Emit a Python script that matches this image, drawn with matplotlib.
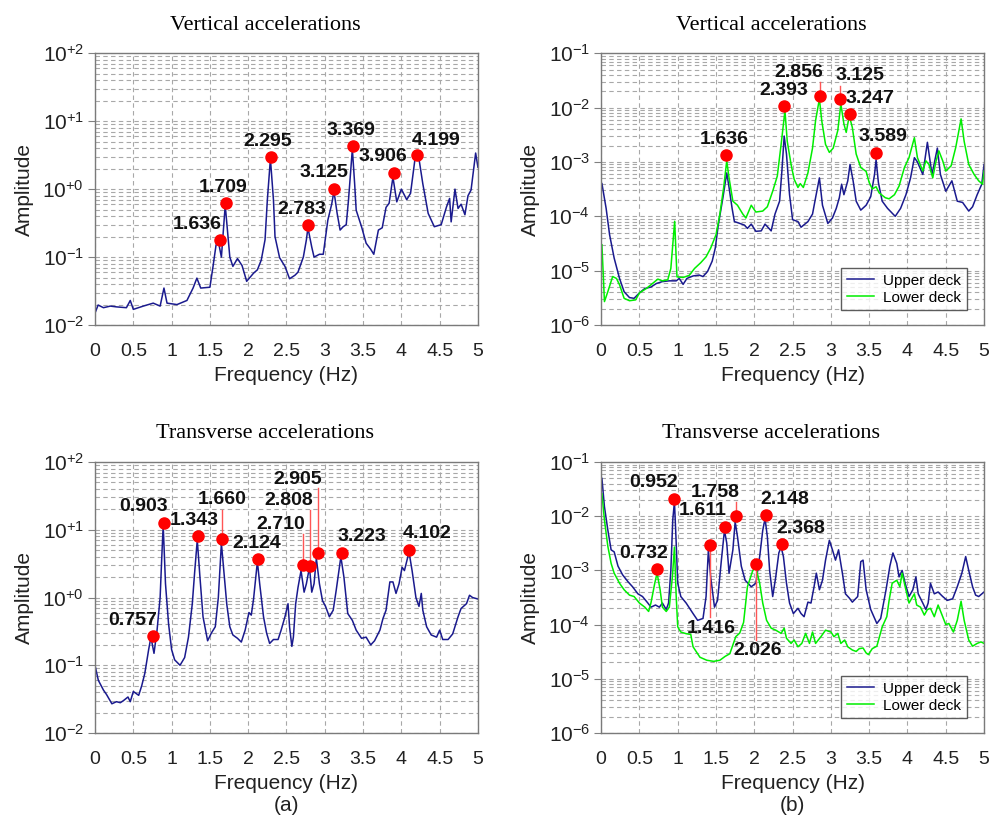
import numpy as np
import matplotlib
matplotlib.use("Agg")
import matplotlib.pyplot as plt
from matplotlib.ticker import LogLocator, NullFormatter, FixedLocator

plt.rcParams['font.family'] = ['Liberation Sans', 'DejaVu Sans']
plt.rcParams['axes.unicode_minus'] = False

# ---------------- data ----------------
# (a) vertical
va_f = [0, 0.04, 0.11, 0.2, 0.28, 0.41, 0.46, 0.5, 0.63, 0.76, 0.85, 0.9, 0.94, 1.07, 1.2, 1.28,
        1.33, 1.38, 1.5, 1.54, 1.58, 1.61, 1.65, 1.70, 1.76, 1.80, 1.86, 1.92, 1.98, 2.07, 2.12,
        2.17, 2.22, 2.25, 2.29, 2.33, 2.35, 2.41, 2.48, 2.54, 2.61, 2.65, 2.72, 2.76, 2.78, 2.83,
        2.86, 2.93, 2.98, 3.04, 3.09, 3.12, 3.16, 3.2, 3.24, 3.28, 3.31, 3.36, 3.39, 3.41, 3.48,
        3.54, 3.6, 3.64, 3.7, 3.75, 3.8, 3.84, 3.89, 3.94, 4.0, 4.07, 4.12, 4.18, 4.23, 4.28,
        4.35, 4.43, 4.52, 4.59, 4.63, 4.65, 4.7, 4.74, 4.78, 4.83, 4.87, 4.91, 4.97, 5.0]
va_amp = [0.015, 0.0197, 0.018, 0.019, 0.0185, 0.018, 0.023, 0.017, 0.019, 0.021, 0.019, 0.035,
          0.021, 0.02, 0.023, 0.035, 0.049, 0.035, 0.036, 0.072, 0.15, 0.17, 0.10, 0.58, 0.10,
          0.073, 0.095, 0.075, 0.044, 0.058, 0.065, 0.09, 0.18, 0.69, 2.8, 0.69, 0.2, 0.098,
          0.073, 0.048, 0.054, 0.06, 0.10, 0.18, 0.27, 0.14, 0.10, 0.11, 0.11, 0.35, 0.6, 0.93,
          0.45, 0.25, 0.28, 0.3, 0.7, 3.9, 1.2, 0.49, 0.28, 0.16, 0.13, 0.11, 0.25, 0.27, 0.54,
          0.62, 1.5, 0.65, 1.0, 0.7, 0.87, 2.9, 2.8, 1.2, 0.44, 0.28, 0.3, 0.55, 0.73, 0.33, 1.0,
          0.52, 0.6, 0.42, 0.8, 0.97, 3.4, 2.1]
va_peak_f = [1.636, 1.709, 2.295, 2.783, 3.125, 3.369, 3.906, 4.199]
va_peak_a = [0.18, 0.62, 2.93, 0.295, 1.01, 4.39, 1.74, 3.13]

# (a) transverse
ta_f = [0, 0.043, 0.11, 0.15, 0.22, 0.28, 0.33, 0.37, 0.43, 0.46, 0.5, 0.57, 0.61, 0.65, 0.7,
        0.73, 0.77, 0.81, 0.85, 0.87, 0.89, 0.92, 0.96, 1.0, 1.04, 1.11, 1.17, 1.22, 1.27, 1.3,
        1.335, 1.37, 1.41, 1.47, 1.52, 1.57, 1.61, 1.65, 1.68, 1.72, 1.76, 1.8, 1.86, 1.91, 1.96,
        2.01, 2.04, 2.07, 2.12, 2.15, 2.2, 2.24, 2.28, 2.33, 2.39, 2.43, 2.48, 2.52, 2.54, 2.57,
        2.59, 2.62, 2.65, 2.69, 2.73, 2.76, 2.8, 2.83, 2.86, 2.89, 2.93, 2.97, 3.01, 3.06, 3.11,
        3.15, 3.21, 3.25, 3.3, 3.36, 3.41, 3.48, 3.54, 3.6, 3.65, 3.72, 3.76, 3.8, 3.85, 3.89,
        3.93, 3.97, 4.01, 4.04, 4.1, 4.14, 4.19, 4.23, 4.26, 4.28, 4.33, 4.39, 4.46, 4.5, 4.54,
        4.61, 4.67, 4.74, 4.78, 4.85, 4.89, 4.93, 5.0]
ta_amp = [0.099, 0.06, 0.043, 0.037, 0.027, 0.029, 0.028, 0.03, 0.034, 0.029, 0.041, 0.036, 0.05,
          0.076, 0.17, 0.26, 0.15, 0.33, 1.0, 3.6, 11.8, 1.6, 0.41, 0.17, 0.12, 0.1, 0.13, 0.26,
          0.81, 2.3, 7.1, 2.0, 0.52, 0.23, 0.3, 0.37, 1.0, 6.3, 2.6, 0.8, 0.37, 0.28, 0.25, 0.22,
          0.33, 0.6, 0.55, 0.95, 3.4, 1.6, 0.52, 0.3, 0.21, 0.24, 0.24, 0.33, 0.52, 0.81, 0.37,
          0.19, 0.26, 0.81, 1.4, 2.5, 1.2, 1.6, 2.8, 1.2, 1.6, 3.8, 1.6, 0.9, 0.74, 0.52, 0.65,
          1.3, 4.0, 2.0, 0.58, 0.46, 0.33, 0.25, 0.26, 0.2, 0.23, 0.33, 0.49, 0.65, 1.7, 1.7,
          1.15, 1.6, 2.8, 2.5, 4.7, 2.5, 1.0, 0.74, 1.15, 0.65, 0.37, 0.28, 0.26, 0.33, 0.24,
          0.24, 0.29, 0.52, 0.69, 0.81, 1.08, 1.0, 0.95]
ta_peak_f = [0.757, 0.903, 1.343, 1.660, 2.124, 2.710, 2.808, 2.905, 3.223, 4.102]
ta_peak_a = [0.27, 12.8, 8.1, 7.4, 3.7, 3.0, 2.94, 4.47, 4.5, 5.1]

# (b) vertical
vb_up_f = [0.01, 0.065, 0.11, 0.17, 0.24, 0.3, 0.37, 0.43, 0.5, 0.57, 0.65, 0.72, 0.8, 0.89, 0.98,
           1.02, 1.07, 1.12, 1.2, 1.28, 1.33, 1.39, 1.45, 1.49, 1.53, 1.59, 1.64, 1.67, 1.71, 1.74,
           1.8, 1.87, 1.91, 1.96, 2.02, 2.09, 2.14, 2.22, 2.27, 2.33, 2.36, 2.39, 2.42, 2.46, 2.5,
           2.57, 2.61, 2.7, 2.76, 2.8, 2.85, 2.89, 2.96, 3.02, 3.07, 3.11, 3.14, 3.17, 3.22, 3.25,
           3.29, 3.33, 3.39, 3.46, 3.52, 3.57, 3.59, 3.62, 3.67, 3.74, 3.84, 3.91, 3.98, 4.04, 4.09,
           4.13, 4.2, 4.26, 4.32, 4.39, 4.43, 4.5, 4.58, 4.65, 4.72, 4.8, 4.85, 4.91, 4.97, 5.0]
vb_up_amp = [4.0e-4, 1.4e-4, 4.6e-5, 1.7e-5, 7.2e-6, 4.1e-6, 3.2e-6, 3.1e-6, 3.9e-6, 4.7e-6, 5e-6,
             5.8e-6, 6.3e-6, 6.5e-6, 6.5e-6, 7.2e-6, 5.6e-6, 7.2e-6, 8e-6, 8.3e-6, 7.8e-6, 9.7e-6,
             1.5e-5, 2.6e-5, 7e-5, 2.2e-4, 6.3e-4, 3.4e-4, 1.4e-4, 8e-5, 7.5e-5, 6.9e-5, 6e-5,
             7.2e-5, 5.3e-5, 5.4e-5, 7.2e-5, 5.4e-5, 1.1e-4, 1.9e-4, 6.8e-4, 3e-3, 1.4e-3, 2.5e-4,
             8.7e-5, 8e-5, 6.3e-5, 8e-5, 1.1e-4, 2.2e-4, 5.1e-4, 1.6e-4, 7.4e-5, 9.3e-5, 1.4e-4,
             2.2e-4, 3.9e-4, 2.5e-4, 4.5e-4, 9e-4, 4.5e-4, 1.9e-4, 1.3e-4, 1.6e-4, 2.3e-4, 5.9e-4,
             1.1e-3, 4.2e-4, 1.9e-4, 1.4e-4, 1e-4, 1.4e-4, 2.5e-4, 5.1e-4, 1.2e-3, 1e-3, 5.9e-4,
             2.3e-3, 5.9e-4, 1.8e-3, 5.9e-4, 2.9e-4, 4.5e-4, 1.9e-4, 1.8e-4, 1.25e-4, 1.5e-4,
             2.5e-4, 3.9e-4, 9e-4]
vb_lo_f = [0.01, 0.043, 0.087, 0.15, 0.2, 0.24, 0.3, 0.37, 0.45, 0.5, 0.59, 0.67, 0.74, 0.8, 0.87,
           0.91, 0.96, 0.99, 1.07, 1.15, 1.22, 1.3, 1.37, 1.43, 1.5, 1.55, 1.6, 1.64, 1.67, 1.72,
           1.78, 1.85, 1.89, 1.96, 2.02, 2.11, 2.17, 2.24, 2.3, 2.35, 2.4, 2.43, 2.48, 2.52, 2.57,
           2.6, 2.64, 2.7, 2.76, 2.8, 2.85, 2.88, 2.93, 2.98, 3.03, 3.09, 3.13, 3.17, 3.2, 3.24,
           3.28, 3.33, 3.39, 3.46, 3.5, 3.54, 3.59, 3.63, 3.71, 3.76, 3.83, 3.89, 3.96, 4.02, 4.09,
           4.13, 4.2, 4.24, 4.28, 4.33, 4.37, 4.41, 4.46, 4.5, 4.57, 4.63, 4.7, 4.74, 4.8, 4.87,
           4.93, 4.98, 5.0]
vb_lo_amp = [3e-5, 2.7e-6, 4.1e-6, 7.8e-6, 7.2e-6, 5.5e-6, 3.1e-6, 2.8e-6, 2.9e-6, 3.9e-6, 4.7e-6,
             5.8e-6, 7e-6, 6.5e-6, 6.8e-6, 1.1e-5, 8.1e-5, 7.7e-6, 7.5e-6, 8.2e-6, 1.1e-5, 1.4e-5,
             1.8e-5, 2.6e-5, 4.6e-5, 1.1e-4, 3.4e-4, 1.05e-3, 5.1e-4, 1.9e-4, 1.6e-4, 1.1e-4,
             9.3e-5, 1.6e-4, 1.2e-4, 1.25e-4, 1.5e-4, 2.9e-4, 5.5e-4, 2.1e-3, 8.8e-3, 2.4e-3, 9e-4,
             4.8e-4, 3.4e-4, 4e-4, 3.4e-4, 6.3e-4, 1.8e-3, 5.8e-3, 1.45e-2, 5.8e-3, 2.1e-3, 1.5e-3,
             1.8e-3, 3.8e-3, 1.17e-2, 5e-3, 3.5e-3, 7.1e-3, 4.3e-3, 1.4e-3, 7.9e-4, 6.7e-4, 4.2e-4,
             3.2e-4, 3.5e-4, 2.7e-4, 2.2e-4, 2.1e-4, 2.5e-4, 3.6e-4, 7.9e-4, 1.2e-3, 2.8e-3, 1.2e-3,
             6.8e-4, 1.05e-3, 9e-4, 5.1e-4, 1.0e-3, 1.6e-3, 1.05e-3, 6.8e-4, 8.5e-4, 1.85e-3,
             6.2e-3, 2.4e-3, 9e-4, 5.9e-4, 4.5e-4, 3.9e-4, 6.8e-4]
vb_peak_f = [1.636, 2.393, 2.856, 3.125, 3.247, 3.589]
vb_peak_a = [1.35e-3, 1.06e-2, 1.65e-2, 1.47e-2, 7.6e-3, 1.47e-3]

# (b) transverse
tb_up_f = [0.01, 0.043, 0.087, 0.13, 0.17, 0.22, 0.28, 0.35, 0.41, 0.48, 0.54, 0.61, 0.65, 0.71,
           0.76, 0.8, 0.85, 0.88, 0.91, 0.935, 0.957, 0.98, 1.0, 1.04, 1.11, 1.2, 1.26, 1.33, 1.37,
           1.40, 1.43, 1.48, 1.52, 1.57, 1.61, 1.64, 1.67, 1.72, 1.75, 1.78, 1.83, 1.88, 1.96,
           2.02, 2.07, 2.11, 2.14, 2.17, 2.2, 2.24, 2.28, 2.32, 2.35, 2.38, 2.42, 2.46, 2.51, 2.57,
           2.61, 2.65, 2.7, 2.74, 2.78, 2.81, 2.85, 2.89, 2.93, 2.98, 3.02, 3.06, 3.1, 3.15, 3.19,
           3.24, 3.28, 3.35, 3.39, 3.42, 3.46, 3.52, 3.6, 3.65, 3.72, 3.77, 3.81, 3.86, 3.89, 3.93,
           3.97, 4.02, 4.07, 4.11, 4.14, 4.2, 4.24, 4.27, 4.3, 4.35, 4.4, 4.46, 4.52, 4.59, 4.65,
           4.71, 4.76, 4.8, 4.85, 4.89, 4.93, 5.0]
tb_up_amp = [5e-2, 1.5e-2, 5.6e-3, 2.4e-3, 2.2e-3, 1.2e-3, 8.3e-4, 6.2e-4, 5e-4, 3.7e-4, 3.3e-4,
             2.5e-4, 2.1e-4, 2.3e-4, 2.1e-4, 2.5e-4, 1.9e-4, 2.5e-4, 1.0e-3, 8.5e-3, 1.86e-2,
             3.2e-3, 5.8e-4, 3.3e-4, 2.5e-4, 1.6e-4, 1.2e-4, 1.3e-4, 3.3e-4, 2.4e-3, 7.6e-4, 2.1e-4,
             2.8e-4, 1.55e-3, 5.5e-3, 3.2e-3, 8.9e-4, 2.4e-3, 7.9e-3, 4.2e-3, 1.2e-3, 6.6e-4, 5e-4,
             5.8e-4, 1.8e-3, 5.5e-3, 9.1e-3, 4.2e-3, 1.0e-3, 3.3e-4, 7.6e-4, 2.1e-3, 2.7e-3, 1.8e-3,
             5.8e-4, 2.5e-4, 1.6e-4, 2e-4, 1.6e-4, 1.4e-4, 2.6e-4, 2.5e-4, 5e-4, 8.9e-4, 4.4e-4,
             6.6e-4, 1.55e-3, 3.6e-3, 2.4e-3, 1.55e-3, 2.4e-3, 8.9e-4, 3.7e-4, 3.1e-4, 2.6e-4,
             3.3e-4, 1.45e-3, 1.55e-3, 4.4e-4, 1.9e-4, 1.05e-4, 1.3e-4, 4.4e-4, 1.2e-3, 2.1e-3,
             1.35e-3, 7.6e-4, 1.0e-3, 5.8e-4, 3.3e-4, 4.4e-4, 7.6e-4, 3.7e-4, 2.5e-4, 1.9e-4,
             2.5e-4, 5.8e-4, 3.7e-4, 4e-4, 3.3e-4, 2.8e-4, 3e-4, 5e-4, 8.9e-4, 1.8e-3, 1.0e-3,
             5e-4, 3.5e-4, 3.3e-4, 4e-4]
tb_lo_f = [0.01, 0.043, 0.087, 0.13, 0.17, 0.24, 0.3, 0.37, 0.43, 0.5, 0.57, 0.62, 0.65, 0.7,
           0.73, 0.77, 0.8, 0.85, 0.89, 0.93, 0.957, 0.98, 1.0, 1.04, 1.11, 1.17, 1.2, 1.29, 1.38,
           1.47, 1.55, 1.62, 1.68, 1.758, 1.81, 1.86, 1.91, 1.98, 2.02, 2.07, 2.11, 2.16, 2.22,
           2.28, 2.35, 2.39, 2.42, 2.48, 2.52, 2.57, 2.62, 2.67, 2.72, 2.76, 2.8, 2.87, 2.93, 3.0,
           3.04, 3.09, 3.13, 3.18, 3.22, 3.28, 3.33, 3.37, 3.42, 3.46, 3.49, 3.54, 3.6, 3.67, 3.73,
           3.76, 3.8, 3.86, 3.9, 3.93, 3.97, 4.02, 4.09, 4.12, 4.17, 4.22, 4.26, 4.3, 4.35, 4.4,
           4.46, 4.5, 4.54, 4.6, 4.65, 4.7, 4.74, 4.8, 4.85, 4.91, 4.96, 5.0]
tb_lo_amp = [2.6e-2, 8.5e-3, 2.8e-3, 1.35e-3, 8.9e-4, 5.8e-4, 4.4e-4, 3.5e-4, 3.3e-4, 2.5e-4,
             2.1e-4, 1.75e-4, 2.5e-4, 5.8e-4, 8.9e-4, 4.4e-4, 2.1e-4, 1.75e-4, 2.1e-4, 7.6e-4,
             2.7e-3, 3.3e-4, 9.1e-5, 7.3e-5, 6.8e-5, 6.6e-5, 3.9e-5, 2.5e-5, 2.2e-5, 2.1e-5, 2.2e-5,
             2.6e-5, 2.9e-5, 6e-5, 7e-5, 1.1e-4, 5e-4, 1.0e-3, 1.15e-3, 5.8e-4, 2.5e-4, 1.2e-4,
             8.6e-5, 7.9e-5, 6.9e-5, 8.6e-5, 5.6e-5, 4.5e-5, 5.2e-5, 3.9e-5, 4.5e-5, 6.9e-5, 4.5e-5,
             7.3e-5, 4.5e-5, 6e-5, 7.9e-5, 7.3e-5, 6e-5, 6.9e-5, 4.5e-5, 5.2e-5, 3.9e-5, 3.4e-5,
             3.2e-5, 3.6e-5, 3.7e-5, 3e-5, 2.8e-5, 3.6e-5, 4e-5, 9.1e-5, 1.4e-4, 2.8e-4, 5.8e-4,
             6.6e-4, 5e-4, 8.9e-4, 5e-4, 2.5e-4, 3.7e-4, 2.3e-4, 2.1e-4, 1.5e-4, 1.9e-4, 2e-4,
             1.4e-4, 2.3e-4, 1.4e-4, 1.0e-4, 1.05e-4, 7.3e-5, 1.2e-4, 2.7e-4, 1.2e-4, 5.2e-5, 4e-5,
             4.5e-5, 4.8e-5, 4.5e-5]
tb_peak_f = [0.732, 0.952, 1.416, 1.611, 1.758, 2.026, 2.148, 2.368]
tb_peak_a = [1.07e-3, 2.1e-2, 2.9e-3, 6.4e-3, 1.0e-2, 1.3e-3, 1.04e-2, 3.1e-3]

legend_names = ["Upper deck", "Lower deck"]

# ---------------- drawing ----------------
BLUE = '#1a1a8e'
GREEN = '#00ee00'
GRID = '#a8a8a8'


def setup(ax, title, lo, hi, plus):
    ax.set_yscale('log')
    ax.set_xlim(0, 5)
    ax.set_ylim(10.0 ** lo, 10.0 ** hi)
    ax.xaxis.set_major_locator(FixedLocator(np.arange(0, 5.01, 0.5)))
    ax.set_xticklabels(['0', '0.5', '1', '1.5', '2', '2.5', '3', '3.5', '4', '4.5', '5'])
    exps = list(range(lo, hi + 1))
    ax.set_yticks([10.0 ** e for e in exps])
    labs = []
    for e in exps:
        s = ('+%d' % e if e >= 0 else '%d' % e) if plus else '%d' % e
        labs.append(r'$\mathregular{10^{%s}}$' % s)
    ax.set_yticklabels(labs)
    ax.yaxis.set_minor_locator(LogLocator(base=10, subs=np.arange(2, 10), numticks=100))
    ax.yaxis.set_minor_formatter(NullFormatter())
    ax.grid(True, which='both', axis='y', ls=(0, (4, 3)), color=GRID, lw=0.8)
    ax.grid(True, which='major', axis='x', ls=(0, (4, 3)), color=GRID, lw=0.8)
    ax.tick_params(axis='x', length=0, pad=13, labelsize=14, colors='#222222')
    ax.tick_params(axis='y', which='major', direction='out', length=5, color='#808080',
                   pad=3, labelsize=15, labelcolor='#222222')
    ax.tick_params(axis='y', which='minor', length=0)
    for s in ax.spines.values():
        s.set_color('#7a7a7a')
        s.set_linewidth(1.0)
    ax.set_xlabel('Frequency (Hz)', fontsize=15, labelpad=4, color='#222222')
    ax.set_ylabel('Amplitude', fontsize=15, labelpad=6, color='#222222')
    ax.set_title(title, family='Liberation Serif', fontsize=16, x=0.444, pad=17)


def peaks(ax, pf, pa, text_pos, leaders):
    ax.plot(pf, pa, 'o', color='#ff0000', ms=8, zorder=6, mec='#ff0000')
    for f, a, (tx, ty) in zip(pf, pa, text_pos):
        ax.text(tx, ty, '%.3f' % f, ha='center', va='center', fontsize=14,
                fontweight='bold', color='#111111', zorder=7)
    for i, y0 in leaders:
        ax.plot([pf[i], pf[i]], [y0, pa[i]], color='#ff5555', lw=1.0, zorder=5)


fig = plt.figure(figsize=(9.92, 8.26), dpi=100)
ax1 = fig.add_axes([0.0958, 0.6065, 0.386, 0.329])
ax2 = fig.add_axes([0.606, 0.6065, 0.386, 0.329])
ax3 = fig.add_axes([0.0958, 0.1126, 0.386, 0.328])
ax4 = fig.add_axes([0.606, 0.1126, 0.386, 0.328])

# top left
setup(ax1, 'Vertical accelerations', -2, 2, True)
ax1.plot(va_f, va_amp, color=BLUE, lw=1.1)
peaks(ax1, va_peak_f, va_peak_a,
      [(1.33, 0.305), (1.67, 1.06), (2.25, 4.97), (2.70, 0.51), (2.99, 1.74),
       (3.34, 7.4), (3.76, 3.0), (4.45, 5.25)], [])

# top right
setup(ax2, 'Vertical accelerations', -6, -1, False)
ax2.plot(vb_up_f, vb_up_amp, color=BLUE, lw=1.1, label=legend_names[0])
ax2.plot(vb_lo_f, vb_lo_amp, color=GREEN, lw=1.1, label=legend_names[1])
peaks(ax2, vb_peak_f, vb_peak_a,
      [(1.61, 2.6e-3), (2.39, 2.07e-2), (2.58, 4.5e-2), (3.38, 3.9e-2),
       (3.51, 1.5e-2), (3.68, 2.9e-3)],
      [(2, 2.95e-2), (3, 2.45e-2)])

# bottom left
setup(ax3, 'Transverse accelerations', -2, 2, True)
ax3.plot(ta_f, ta_amp, color=BLUE, lw=1.1)
peaks(ax3, ta_peak_f, ta_peak_a,
      [(0.49, 0.46), (0.64, 21.9), (1.30, 13.8), (1.66, 28), (2.11, 6.3),
       (2.43, 12), (2.53, 27.4), (2.64, 55), (3.48, 7.9), (4.33, 8.9)],
      [(3, 19.5), (5, 8.8), (6, 19.5), (7, 41)])

# bottom right
setup(ax4, 'Transverse accelerations', -6, -1, False)
ax4.plot(tb_up_f, tb_up_amp, color=BLUE, lw=1.1, label=legend_names[0])
ax4.plot(tb_lo_f, tb_lo_amp, color=GREEN, lw=1.1, label=legend_names[1])
peaks(ax4, tb_peak_f, tb_peak_a,
      [(0.557, 2.07e-3), (0.687, 4.2e-2), (1.435, 8.5e-5), (1.33, 1.25e-2),
       (1.49, 2.8e-2), (2.05, 3.4e-5), (2.40, 2.05e-2), (2.61, 6e-3)],
      [(2, 1.4e-4), (5, 5.2e-5), (4, 1.85e-2)])

for ax in (ax2, ax4):
    leg = ax.legend(loc='lower right', bbox_to_anchor=(0.955, 0.055), fontsize=11,
                    frameon=True, fancybox=False, handlelength=1.8, borderpad=0.35,
                    labelspacing=0.2, handletextpad=0.6, borderaxespad=0)
    leg.get_frame().set_edgecolor('#333333')
    leg.get_frame().set_linewidth(1.0)

fig.text(0.289, 0.013, '(a)', ha='center', va='bottom', fontsize=15, color='#222222')
fig.text(0.799, 0.013, '(b)', ha='center', va='bottom', fontsize=15, color='#222222')

fig.savefig('out.png', dpi=100)
